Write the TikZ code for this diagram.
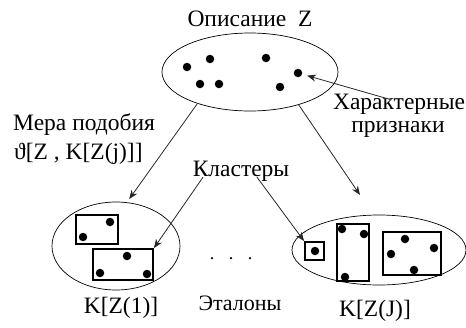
\documentclass[tikz,border=0pt]{standalone}
\usepackage{fontspec}
\setmainfont{Liberation Serif}
\usetikzlibrary{shapes.geometric,arrows.meta}
\begin{document}
\begin{tikzpicture}[x=1pt,y=-1pt,
  set/.style={draw,ellipse,line width=0.7pt,inner sep=0pt},
  cluster/.style={draw,line width=1.8pt,inner sep=0pt},
  pt/.style={circle,fill,inner sep=0pt,minimum size=8.5pt},
  arr/.style={draw=black!85,line width=0.8pt,-{Stealth[length=9pt,width=7pt]}},
  lbl/.style={font=\fontsize{23.5}{28}\selectfont,anchor=base,inner sep=0pt},
]
\useasboundingbox (0,0) rectangle (466,327);

% description Z with its features
\node[set,minimum width=176pt,minimum height=78pt] (top) at (250,72) {};
\node[pt] (d1) at (187,67) {};
\node[pt] (d2) at (210,59) {};
\node[pt] (d3) at (200,84) {};
\node[pt] (d4) at (219,84) {};
\node[pt] (d5) at (266,58) {};
\node[pt] (d6) at (280,87) {};
\node[pt] (d7) at (298,73) {};

% reference K[Z(1)]
\node[set,minimum width=128pt,minimum height=88pt] (k1) at (116,246) {};
\node[cluster,minimum width=42pt,minimum height=29pt] (r11) at (97,229.5) {};
\node[cluster,minimum width=60pt,minimum height=31pt] (r12) at (123,264.5) {};
\node[pt] (e1) at (110,222) {};
\node[pt] (e2) at (83,237) {};
\node[pt] (e3) at (127,256) {};
\node[pt] (e4) at (100,273) {};
\node[pt] (e5) at (147,274) {};

% reference K[Z(J)]
\node[set,minimum width=174pt,minimum height=70pt] (kJ) at (379,250) {};
\node[cluster,minimum width=19pt,minimum height=18pt] (s1) at (314.5,251) {};
\node[cluster,minimum width=32pt,minimum height=57pt] (s2) at (353,252.5) {};
\node[cluster,minimum width=58pt,minimum height=43pt] (s3) at (412,253.5) {};
\node[pt] (f1) at (315,251) {};
\node[pt] (f2) at (342,229) {};
\node[pt] (f3) at (364,234) {};
\node[pt] (f4) at (345,277) {};
\node[pt] (f5) at (405,239) {};
\node[pt] (f6) at (391,254) {};
\node[pt] (f7) at (434,248) {};
\node[pt] (f8) at (414,270) {};

% ellipsis between the references
\node[circle,fill,inner sep=0pt,minimum size=2.5pt] (g1) at (212,258) {};
\node[circle,fill,inner sep=0pt,minimum size=2.5pt] (g2) at (231,258) {};
\node[circle,fill,inner sep=0pt,minimum size=2.5pt] (g3) at (250,258) {};

% labels
\node[lbl] (title) at (250,26) {Описание\ \ Z};
\node[lbl,anchor=base west] (mera) at (13,130) {Мера подобия};
\node[lbl,anchor=base west] (theta) at (14,159) {ϑ[Z , K[Z(j)]]};
\node[lbl] (char) at (399,109) {Характерные};
\node[lbl] (prizn) at (398,132) {признаки};
\node[lbl] (kl) at (241,176) {Кластеры};
\node[lbl] (n1) at (121,313) {K[Z(1)]};
\node[lbl] (nJ) at (375,316) {K[Z(J)]};
\node[anchor=base,inner sep=0pt,font=\fontsize{22}{26}\selectfont] (etal) at (240,310) {Эталоны};

% connectors
\coordinate (tipR) at (360,195);
\path[arr] (top.211) -- (k1.76) [shorten >=4pt];
\draw[arr] (top.326) -- (tipR);
\draw[arr,shorten >=5pt] ([xshift=-9pt,yshift=-6pt]char.north) -- (d7);
\draw[arr] ([xshift=-38pt,yshift=4pt]kl.south) -- (r12.north east);
\draw[arr] ([xshift=16pt,yshift=4pt]kl.south) -- (s1.north west);
\end{tikzpicture}
\end{document}
